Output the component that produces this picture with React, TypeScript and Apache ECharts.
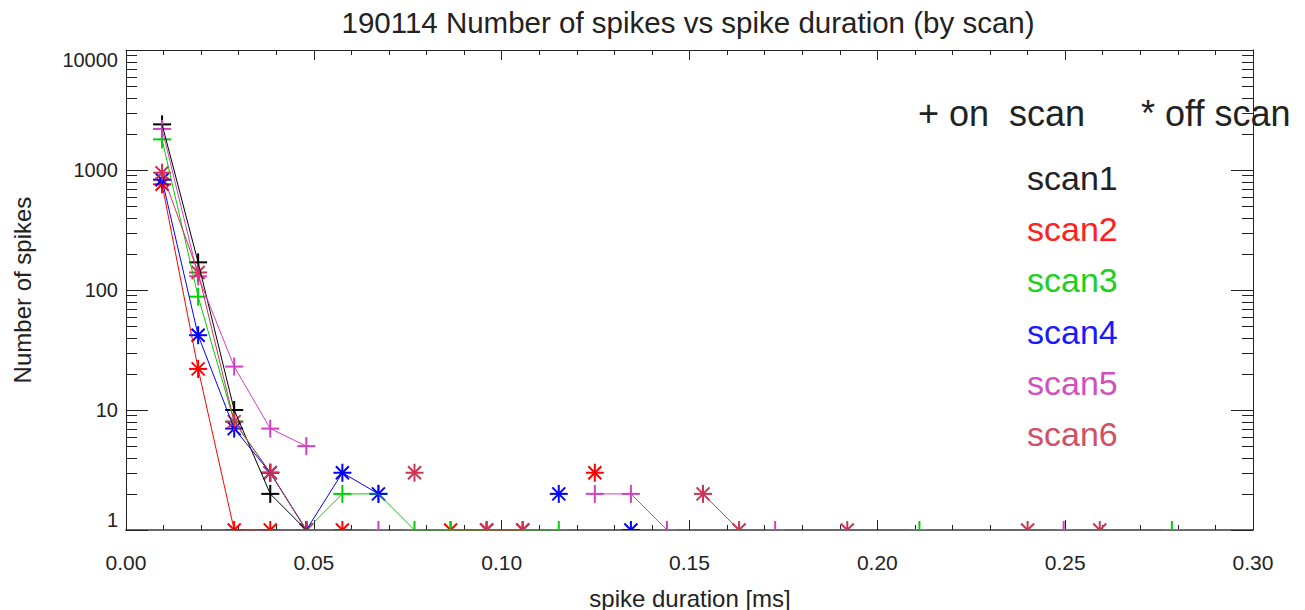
import React, { useEffect, useRef } from "react";
import * as echarts from "echarts";

// spike duration bins [ms]
const durations = [
  0.0096, 0.0192, 0.0288, 0.0384, 0.048, 0.0576, 0.0672, 0.0768, 0.0864, 0.096,
  0.1056, 0.1152, 0.1248, 0.1344, 0.144, 0.1536, 0.1632, 0.1728, 0.1824, 0.192,
  0.2016, 0.2112, 0.2208, 0.2304, 0.24, 0.2496, 0.2592, 0.2688, 0.2784,
];

// number of spikes per bin (0 = none)
const scan1 = [2400, 170, 10, 2, 1, 0, 0, 0, 0, 0, 0, 0, 0, 0, 0, 0, 0, 0, 0, 0, 0, 0, 0, 0, 0, 0, 0, 0, 0];
const scan2 = [760, 22, 1, 1, 0, 1, 0, 0, 1, 1, 1, 0, 3, 0, 0, 0, 0, 0, 0, 0, 0, 0, 0, 0, 0, 0, 0, 0, 0];
const scan3 = [1800, 88, 8, 3, 1, 2, 2, 1, 1, 1, 1, 1, 0, 0, 0, 0, 0, 0, 0, 0, 0, 1, 0, 0, 0, 0, 0, 0, 1];
const scan4 = [830, 42, 7, 3, 1, 3, 2, 0, 0, 0, 0, 2, 0, 1, 0, 0, 0, 0, 0, 0, 0, 0, 0, 0, 0, 0, 0, 0, 0];
const scan5 = [2200, 130, 23, 7, 5, 0, 1, 0, 0, 0, 0, 0, 2, 2, 1, 0, 0, 1, 0, 0, 0, 0, 0, 0, 0, 1, 0, 0, 0];
const scan6 = [950, 140, 8, 3, 1, 0, 0, 3, 0, 1, 1, 0, 0, 0, 0, 2, 1, 0, 0, 1, 0, 0, 0, 0, 1, 0, 1, 0, 0];

const scanValues = [scan1, scan2, scan3, scan4, scan5, scan6];
const scanNames = ["scan1", "scan2", "scan3", "scan4", "scan5", "scan6"];
const scanColors = ["#000000", "#ff0000", "#00d000", "#0000ff", "#d040c0", "#cc3355"];
const scanTextColors = ["#222222", "#ff2020", "#20d020", "#1a1aff", "#d050c0", "#d05065"];
const scanMarkers = ["plus", "star", "plus", "star", "plus", "star"];

// log-axis minor tick values
const yMinorTickValues = [
  2, 3, 4, 5, 6, 7, 8, 9,
  20, 30, 40, 50, 60, 70, 80, 90,
  200, 300, 400, 500, 600, 700, 800, 900,
  2000, 3000, 4000, 5000, 6000, 7000, 8000, 9000,
];

const FONT = "'Liberation Sans', Arial, Helvetica, sans-serif";
const AXIS_COLOR = "#222";

function markerRenderer(kind: string, color: string) {
  return (params: any, api: any) => {
    const p = api.coord([api.value(0), api.value(1)]);
    const st = { stroke: color, lineWidth: 2 };
    const L = (x1: number, y1: number, x2: number, y2: number) => ({
      type: "line",
      shape: { x1: p[0] + x1, y1: p[1] + y1, x2: p[0] + x2, y2: p[1] + y2 },
      style: st,
    });
    const children: any[] = [L(-9, 0, 9, 0), L(0, -9, 0, 9)];
    if (kind === "star") {
      children.push(L(-6.5, -6.5, 6.5, 6.5), L(-6.5, 6.5, 6.5, -6.5));
    }
    return { type: "group", children };
  };
}

export default function App() {
  const ref = useRef<HTMLDivElement>(null);

  useEffect(() => {
    if (!ref.current) return;
    const chart = echarts.init(ref.current, undefined, { renderer: "svg" });

    const series: any[] = [];
    scanValues.forEach((vals, k) => {
      series.push({
        type: "line",
        name: scanNames[k],
        xAxisIndex: 0,
        yAxisIndex: 0,
        data: durations.map((d, i) => [d, vals[i] > 0 ? vals[i] : null]),
        symbol: "none",
        connectNulls: false,
        lineStyle: { color: scanColors[k], width: 1 },
        silent: true,
        z: 3,
      });
      series.push({
        type: "custom",
        name: scanNames[k] + " markers",
        xAxisIndex: 0,
        yAxisIndex: 0,
        coordinateSystem: "cartesian2d",
        clip: true,
        encode: { x: 0, y: 1 },
        data: durations.map((d, i) => [d, vals[i]]).filter((p) => p[1] > 0),
        renderItem: markerRenderer(scanMarkers[k], scanColors[k]),
        silent: true,
        z: 3,
      });
    });

    series.push({
      type: "custom",
      name: "yMinorTicks",
      coordinateSystem: "cartesian2d",
      xAxisIndex: 0,
      yAxisIndex: 0,
      clip: false,
      encode: { x: 0, y: 1 },
      data: yMinorTickValues.map((v) => [0, v]),
      renderItem: (params: any, api: any) => {
        const cs = params.coordSys;
        const y = Math.round(api.coord([0, api.value(1)])[1]) + 0.5;
        const st = { stroke: AXIS_COLOR, lineWidth: 1 };
        return {
          type: "group",
          children: [
            { type: "line", shape: { x1: cs.x, y1: y, x2: cs.x + 11, y2: y }, style: st },
            { type: "line", shape: { x1: cs.x + cs.width - 11, y1: y, x2: cs.x + cs.width, y2: y }, style: st },
          ],
        };
      },
      silent: true,
      z: 2,
    });

    const xCommon = {
      type: "value",
      min: 0,
      max: 0.3,
      interval: 0.05,
      splitLine: { show: false },
      axisTick: { show: true, inside: true, length: 10, lineStyle: { color: AXIS_COLOR } },
      minorTick: { show: true, splitNumber: 5, length: 5, lineStyle: { color: AXIS_COLOR } },
    };
    const yCommon = {
      type: "log",
      logBase: 10,
      min: 1,
      max: 10000,
      splitLine: { show: false },
      axisLine: { show: true, onZero: false, lineStyle: { color: AXIS_COLOR, width: 1 } },
      axisTick: { show: true, inside: true, length: 22, lineStyle: { color: AXIS_COLOR } },
      minorTick: { show: false },
    };

    const option: any = {
      animation: false,
      backgroundColor: "#ffffff",
      grid: { left: 126, right: 52, top: 50, bottom: 80, containLabel: false },
      xAxis: [
        {
          ...xCommon,
          position: "bottom",
          axisLine: { show: true, onZero: false, lineStyle: { color: "#6a6a6a", width: 2 } },
          axisLabel: {
            show: true,
            margin: 22,
            fontSize: 21,
            fontFamily: FONT,
            color: "#222",
            formatter: (v: number) => v.toFixed(2),
          },
        },
        {
          ...xCommon,
          position: "top",
          axisLine: { show: true, onZero: false, lineStyle: { color: AXIS_COLOR, width: 1 } },
          axisLabel: { show: false },
        },
      ],
      yAxis: [
        {
          ...yCommon,
          position: "left",
          axisLabel: {
            show: true,
            margin: 8,
            fontSize: 20,
            fontFamily: FONT,
            color: "#222",
            verticalAlignMinLabel: "bottom",
            verticalAlignMaxLabel: "top",
            formatter: (v: number) => String(Math.round(v)),
          },
        },
        { ...yCommon, position: "right", axisLabel: { show: false } },
      ],
      series,
      graphic: [
        {
          type: "text",
          x: 688,
          y: 22,
          style: {
            text: "190114 Number of spikes vs spike duration (by scan)",
            fontSize: 29.5,
            fontFamily: FONT,
            fill: "#222",
            align: "center",
            verticalAlign: "middle",
          },
        },
        {
          type: "text",
          x: 22,
          y: 290,
          rotation: Math.PI / 2,
          style: {
            text: "Number of spikes",
            fontSize: 24,
            fontFamily: FONT,
            fill: "#222",
            align: "center",
            verticalAlign: "middle",
          },
        },
        {
          type: "text",
          x: 690,
          y: 598,
          style: {
            text: "spike duration [ms]",
            fontSize: 24,
            fontFamily: FONT,
            fill: "#222",
            align: "center",
            verticalAlign: "middle",
          },
        },
        {
          type: "text",
          x: 918,
          y: 113,
          style: {
            text: "+ on  scan",
            fontSize: 36,
            fontFamily: FONT,
            fill: "#222",
            align: "left",
            verticalAlign: "middle",
          },
        },
        {
          type: "text",
          x: 1141,
          y: 113,
          style: {
            text: "* off scan",
            fontSize: 36,
            fontFamily: FONT,
            fill: "#222",
            align: "left",
            verticalAlign: "middle",
          },
        },
        ...scanNames.map((n, k) => ({
          type: "text",
          x: 1027,
          y: 178 + k * 51.2,
          style: {
            text: n,
            fontSize: 34,
            fontFamily: FONT,
            fill: scanTextColors[k],
            align: "left",
            verticalAlign: "middle",
          },
        })),
      ],
    };

    chart.setOption(option);
    return () => chart.dispose();
  }, []);

  return (
    <div
      ref={ref}
      style={{ position: "fixed", left: 0, top: 0, width: 1305, height: 610, background: "#fff" }}
    />
  );
}
